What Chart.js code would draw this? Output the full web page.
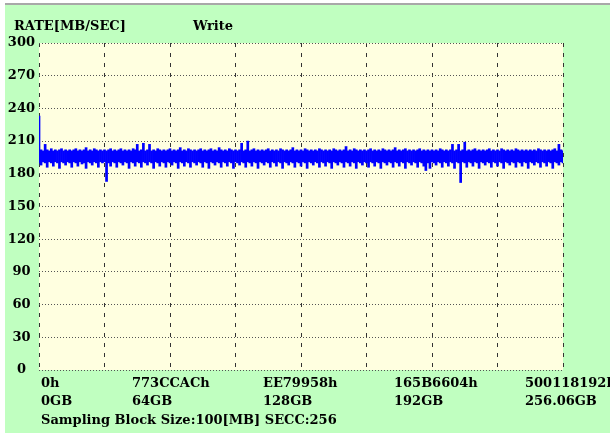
<!DOCTYPE html>
<html>
<head>
<meta charset="utf-8">
<script src="https://cdn.jsdelivr.net/npm/chart.js@4.4.0/dist/chart.umd.min.js"></script>
<style>
  body { margin: 0; background: #fff; }
  #wrap {
    position: absolute; left: 5px; top: 3px;
    width: 605px; height: 428px;
    border-top: 2px solid #a8a8a8;
    background: #c0ffc0;
  }
</style>
</head>
<body>
<div id="wrap"><canvas id="chart" width="605" height="428"></canvas></div>
<script>
// transfer rate per sample [MB/sec], one sample per GB position (0..256)
// each sample drawn as the range between its lowest and highest reading
var rateMax = [
  233, 202, 201, 207, 202, 201, 203, 201, 202, 201, 202, 203, 201, 202, 201, 202,
  201, 202, 203, 201, 202, 201, 202, 204, 201, 202, 201, 203, 202, 201, 202, 201,
  202, 201, 202, 203, 201, 202, 201, 202, 203, 201, 202, 201, 202, 201, 203, 202,
  207, 201, 202, 208, 201, 202, 207, 201, 202, 201, 203, 202, 201, 202, 201, 202,
  203, 201, 202, 201, 202, 204, 201, 202, 201, 203, 202, 201, 202, 201, 202, 203,
  201, 202, 201, 202, 203, 201, 202, 201, 204, 202, 201, 202, 201, 203, 202, 201,
  202, 201, 202, 208, 201, 202, 210, 201, 202, 203, 201, 202, 201, 202, 201, 202,
  203, 201, 202, 201, 202, 201, 203, 202, 201, 202, 201, 202, 204, 201, 202, 201,
  202, 201, 203, 202, 201, 202, 201, 202, 201, 203, 202, 201, 202, 201, 202, 201,
  203, 202, 201, 202, 201, 202, 205, 201, 202, 201, 203, 202, 201, 202, 201, 202,
  201, 202, 203, 201, 202, 201, 202, 201, 203, 202, 201, 202, 201, 202, 204, 201,
  202, 201, 202, 203, 201, 202, 201, 202, 201, 202, 203, 201, 202, 201, 202, 201,
  202, 201, 202, 201, 203, 202, 201, 202, 201, 202, 207, 201, 202, 207, 201, 202,
  209, 201, 202, 201, 202, 203, 201, 202, 201, 202, 201, 202, 203, 201, 202, 201,
  202, 201, 203, 202, 201, 202, 201, 202, 201, 203, 202, 201, 202, 201, 202, 201,
  202, 201, 202, 201, 203, 202, 201, 202, 201, 202, 201, 202, 203, 201, 207, 202,
  201
];
var rateMin = [
  190, 188, 191, 190, 186, 191, 190, 187, 191, 190, 185, 191, 190, 188, 191, 190,
  186, 191, 190, 187, 191, 189, 190, 185, 191, 190, 188, 191, 190, 186, 191, 190,
  191, 173, 190, 187, 191, 190, 186, 191, 190, 188, 191, 190, 185, 191, 190, 187,
  191, 190, 186, 191, 190, 188, 191, 190, 185, 191, 190, 187, 191, 190, 186, 191,
  190, 188, 191, 190, 185, 191, 190, 187, 191, 190, 186, 191, 190, 188, 191, 190,
  186, 191, 190, 185, 191, 190, 188, 191, 190, 186, 191, 190, 187, 191, 190, 185,
  191, 190, 188, 191, 190, 186, 191, 190, 187, 191, 190, 185, 191, 190, 188, 191,
  190, 186, 191, 190, 187, 191, 190, 185, 191, 190, 188, 191, 190, 186, 191, 190,
  187, 191, 190, 185, 191, 190, 188, 191, 190, 186, 191, 190, 187, 191, 190, 185,
  191, 190, 188, 191, 190, 186, 191, 190, 187, 191, 190, 185, 191, 190, 188, 191,
  190, 186, 191, 190, 187, 191, 190, 185, 191, 190, 188, 191, 190, 186, 191, 190,
  187, 191, 190, 185, 191, 190, 188, 191, 190, 186, 191, 190, 187, 183, 190, 185,
  191, 190, 188, 191, 190, 186, 191, 190, 187, 191, 190, 185, 191, 190, 172, 191,
  190, 186, 191, 190, 187, 191, 190, 185, 191, 190, 188, 191, 190, 186, 191, 190,
  187, 191, 190, 185, 191, 190, 188, 191, 190, 186, 191, 190, 187, 191, 190, 185,
  191, 190, 188, 191, 190, 186, 191, 190, 187, 191, 190, 185, 191, 190, 188, 191,
  190
];

var xTickValues = [0, 64, 128, 192, 256];
var xTickAddr = ["0h", "773CCACh", "EE79958h", "165B6604h", "500118192h"];
var xTickSize = ["0GB", "64GB", "128GB", "192GB", "256.06GB"];

var yTitle = "RATE[MB/SEC]";
var chartTitle = "Write";
var footNote = "Sampling Block Size:100[MB] SECC:256";

var FONT = "bold 13px 'DejaVu Serif'";

var ranges = [];
for (var i = 0; i < rateMax.length; i++) {
    ranges.push({ x: i, y: [rateMin[i], rateMax[i]] });
}

var plotBg = {
    id: 'plotBg',
    beforeDraw: function(chart) {
        var a = chart.chartArea;
        var ctx = chart.ctx;
        ctx.save();
        ctx.fillStyle = '#ffffe0';
        ctx.fillRect(a.left, a.top, a.right - a.left, a.bottom - a.top);
        ctx.restore();
    }
};

var texts = {
    id: 'texts',
    afterDraw: function(chart) {
        var ctx = chart.ctx;
        var xs = chart.scales.x;
        ctx.save();
        ctx.font = FONT;
        ctx.fillStyle = '#000';
        ctx.textBaseline = 'middle';
        ctx.textAlign = 'left';
        ctx.fillText(yTitle, 9, 22);
        ctx.fillText(chartTitle, 188, 22);
        for (var i = 0; i < xTickValues.length; i++) {
            var px = xs.getPixelForValue(xTickValues[i]) - 38;
            if (i === 0) px = chart.chartArea.left + 2;
            ctx.fillText(xTickAddr[i], px, 379);
            ctx.fillText(xTickSize[i], px, 397);
        }
        ctx.fillText(footNote, chart.chartArea.left + 2, 416);
        ctx.restore();
    }
};

var chart = new Chart(document.getElementById('chart'), {
    type: 'bar',
    data: {
        datasets: [{
            data: ranges,
            backgroundColor: '#0000ff',
            borderWidth: 0,
            barPercentage: 1,
            categoryPercentage: 1
        }]
    },
    options: {
        responsive: false,
        animation: false,
        plugins: { legend: { display: false }, tooltip: { enabled: false } },
        layout: { padding: { left: 0, top: 38, right: 47, bottom: 0 } },
        scales: {
            x: {
                type: 'linear',
                min: 0,
                max: 256,
                offset: false,
                ticks: { stepSize: 32, display: false },
                grid: { color: '#333', offset: false, drawTicks: false },
                border: { display: false, dash: [4, 6] },
                afterFit: function(s) { s.height = 63; }
            },
            y: {
                min: 0,
                max: 300,
                ticks: {
                    stepSize: 30,
                    color: '#000',
                    font: { family: 'DejaVu Serif', weight: 'bold', size: 13 },
                    crossAlign: 'center',
                    padding: 4
                },
                grid: { color: '#555', drawTicks: false },
                border: { display: false, dash: [1, 2] },
                afterFit: function(s) { s.width = 34; }
            }
        }
    },
    plugins: [plotBg, texts]
});
</script>
</body>
</html>
